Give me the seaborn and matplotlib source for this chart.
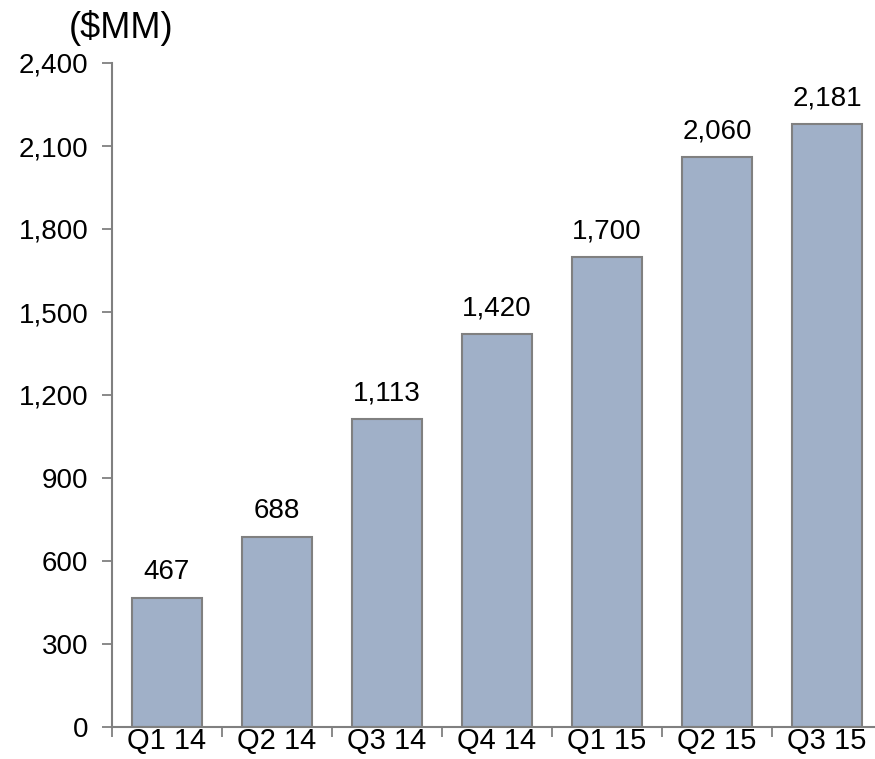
import numpy as np
import pandas as pd
import seaborn as sns
import matplotlib.pyplot as plt
from matplotlib.ticker import FuncFormatter, FixedLocator

# chart data
quarters = ['Q1 14', 'Q2 14', 'Q3 14', 'Q4 14', 'Q1 15', 'Q2 15', 'Q3 15']
values = [467, 688, 1113, 1420, 1700, 2060, 2181]
y_ticks = [0, 300, 600, 900, 1200, 1500, 1800, 2100, 2400]

sns.set_style('white')
plt.rcParams['font.family'] = ['Liberation Sans', 'DejaVu Sans']
plt.rcParams['text.color'] = 'black'
plt.rcParams['xtick.labelcolor'] = 'black'
plt.rcParams['ytick.labelcolor'] = 'black'

df = pd.DataFrame({'quarter': quarters, 'value': values})

fig = plt.figure(figsize=(8.75, 7.59), dpi=100)
ax = fig.add_axes([112 / 875, 32 / 759, 770 / 875, 664 / 759])

sns.barplot(data=df, x='quarter', y='value', color='#A0B0C8', saturation=1,
            width=0.63, edgecolor='#808080', linewidth=1.5, ax=ax)

# value labels above bars
ax.bar_label(ax.containers[0], labels=[f'{v:,}' for v in values],
             padding=9, fontsize=20, color='black')

ax.set_xlim(-0.5, len(quarters) - 0.5)
ax.set_ylim(0, 2400)
ax.set_yticks(y_ticks)
ax.yaxis.set_major_formatter(FuncFormatter(lambda v, p: f'{int(v):,}'))
ax.set_xlabel('')
ax.set_ylabel('')

# x ticks between categories
ax.xaxis.set_minor_locator(FixedLocator(np.arange(-0.5, len(quarters), 1.0)))
ax.tick_params(axis='x', which='major', length=0, pad=0, labelsize=21)
ax.tick_params(axis='x', which='minor', length=7, width=1.3, color='#808080',
               direction='out', bottom=True)
ax.tick_params(axis='y', length=7, width=1.3, color='#808080',
               direction='out', left=True, pad=10, labelsize=20)

sns.despine(ax=ax)
for s in ['left', 'bottom']:
    ax.spines[s].set_color('#808080')
    ax.spines[s].set_linewidth(1.5)

fig.text(121 / 875, 1 - 28 / 759, '($MM)', fontsize=26, ha='center', va='center')

fig.savefig('out.png', dpi=100)
